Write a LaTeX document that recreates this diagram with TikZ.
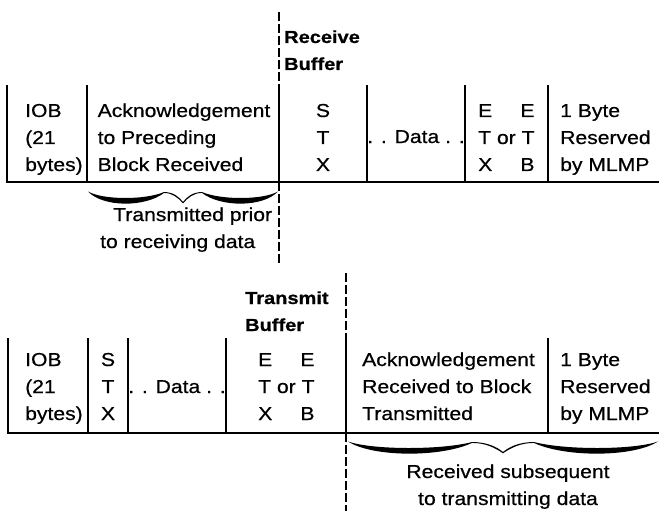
\documentclass[tikz,border=0pt]{standalone}
\usepackage{fontspec}
\setmainfont{Liberation Sans}[FakeStretch=1.13,FakeBold=0.6]
\newfontfamily\headfont{Liberation Sans}[FakeStretch=1.15,BoldFeatures={FakeBold=0.8}]

% stacked lines: left-aligned and centred columns
\newcommand\stackL[1]{\vtop{\halign{##\hfil\cr#1\crcr}}}
\newcommand\stackC[1]{\vtop{\halign{\hfil##\hfil\cr#1\crcr}}}

% tapered curly brace on the unit interval, tip pointing down
\newcommand\wavybrace{%
  \fill[black] (0,0) .. controls (0.08,0.78) and (0.3,0.78) .. (0.4,0.05)
    .. controls (0.45,0.05) and (0.48,0.5) .. (0.5,0.95)
    .. controls (0.52,0.5) and (0.55,0.05) .. (0.6,0.05)
    .. controls (0.7,0.78) and (0.92,0.78) .. (1,0)
    .. controls (0.92,1.45) and (0.7,1.45) .. (0.6,0.13)
    .. controls (0.555,0.13) and (0.525,0.6) .. (0.5,1.07)
    .. controls (0.475,0.6) and (0.445,0.13) .. (0.4,0.13)
    .. controls (0.3,1.45) and (0.08,1.45) .. (0,0) -- cycle;}

\begin{document}
\begin{tikzpicture}[x=1pt,y=-1pt,
  rule/.style={line width=2.2pt},
  cut/.style={line width=2pt,dash pattern=on 9pt off 3pt},
  lbl/.style={inner sep=0pt,anchor=base west,font=\fontsize{18.7}{27}\selectfont},
  clbl/.style={lbl,anchor=base},
  head/.style={inner sep=0pt,anchor=base west,font=\headfont\bfseries\fontsize{17.4}{27}\selectfont}]
\useasboundingbox (0,0) rectangle (659,511);

% ---------- receive buffer layout ----------
\draw[rule] (7,85) -- (7,182) -- (659,182);
\foreach \x in {87,279,367,465,548} \draw[rule] (\x,85) -- (\x,182);
\draw[cut] (279,12) -- (279,85);
\draw[cut] (279,182) -- (279,265);

\node[head] (recv) at (284,43) {\stackL{Receive\cr Buffer}};

\node[lbl] (iobT) at (25,117) {\stackL{IOB\cr (21\cr bytes)}};
\node[lbl] (ackT) at (97.5,117) {\stackL{Acknowledgement\cr to Preceding\cr Block Received}};
\node[clbl] (stxT) at (323,117) {\stackC{S\cr T\cr X}};
\node[clbl] (dataT) at (416,143) {. . Data . .};
\node[lbl] (etxT) at (478,117) {\stackL{E\hfill E\cr T or T\cr X\hfill B}};
\node[lbl] (mlmpT) at (560,117) {\stackL{1 Byte\cr Reserved\cr by MLMP}};

\begin{scope}[shift={(88,191.5)},xscale=190,yscale=11]
  \wavybrace
\end{scope}
\node[lbl] (priorA) at (113,221) {Transmitted prior};
\node[lbl] (priorB) at (100,248) {to receiving data};

% ---------- transmit buffer layout ----------
\draw[rule] (8,338) -- (8,433) -- (659,433);
\foreach \x in {88,128,226,346,548} \draw[rule] (\x,338) -- (\x,433);
\draw[cut] (346,273) -- (346,338);
\draw[cut] (346,433) -- (346,511);

\node[head] (xmit) at (245,304) {\stackL{Transmit\cr Buffer}};

\node[lbl] (iobB) at (25,366) {\stackL{IOB\cr (21\cr bytes)}};
\node[clbl] (stxB) at (108,366) {\stackC{S\cr T\cr X}};
\node[clbl] (dataB) at (177,393) {. . Data . .};
\node[lbl] (etxB) at (258,366) {\stackL{E\hfill E\cr T or T\cr X\hfill B}};
\node[lbl] (ackB) at (362,366) {\stackL{Acknowledgement\cr Received to Block\cr Transmitted}};
\node[lbl] (mlmpB) at (560,366) {\stackL{1 Byte\cr Reserved\cr by MLMP}};

\begin{scope}[shift={(348,441.5)},xscale=310,yscale=11]
  \wavybrace
\end{scope}
\node[clbl] (subs) at (508,478) {\stackC{Received subsequent\cr to transmitting data}};
\end{tikzpicture}
\end{document}
